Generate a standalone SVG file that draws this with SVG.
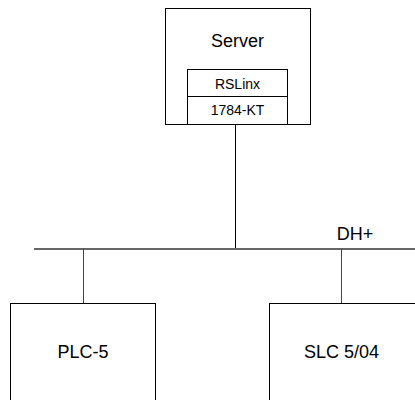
<svg xmlns="http://www.w3.org/2000/svg" width="415" height="400" viewBox="0 0 415 400">
<style>
.box{fill:#fff;stroke:#000;stroke-width:1}
.t{font-family:"Liberation Sans",Arial,sans-serif;font-size:18px;fill:#000;text-anchor:middle}
.s{font-size:14px}
.bus{stroke:#666;stroke-width:2;fill:none}
.drop{stroke:#444;stroke-width:1;fill:none}
.link{stroke:#000;stroke-width:1;fill:none}
</style>
<rect width="415" height="400" fill="#fff"/>
<g id="connectors">
<line class="link" x1="235.5" y1="124" x2="235.5" y2="250"/>
<line class="bus" x1="34" y1="249" x2="415" y2="249"/>
<line class="drop" x1="83.5" y1="249" x2="83.5" y2="303"/>
<line class="drop" x1="341.5" y1="249" x2="341.5" y2="303"/>
<text class="t" x="355" y="240">DH+</text>
</g>
<g id="server">
<rect class="box" x="165.5" y="8.5" width="145" height="116"/>
<text class="t" x="237.5" y="47">Server</text>
<rect class="box" x="187.5" y="69.5" width="100" height="55"/>
<line class="link" x1="187.5" y1="96.5" x2="287.5" y2="96.5"/>
<text class="t s" x="237.5" y="89">RSLinx</text>
<text class="t s" x="237.5" y="115">1784-KT</text>
</g>
<g id="plc5">
<rect class="box" x="10.5" y="303.5" width="145" height="110"/>
<text class="t" x="83" y="358">PLC-5</text>
</g>
<g id="slc504">
<rect class="box" x="269.5" y="303.5" width="160" height="110"/>
<text class="t" x="341.5" y="358">SLC 5/04</text>
</g>
</svg>
